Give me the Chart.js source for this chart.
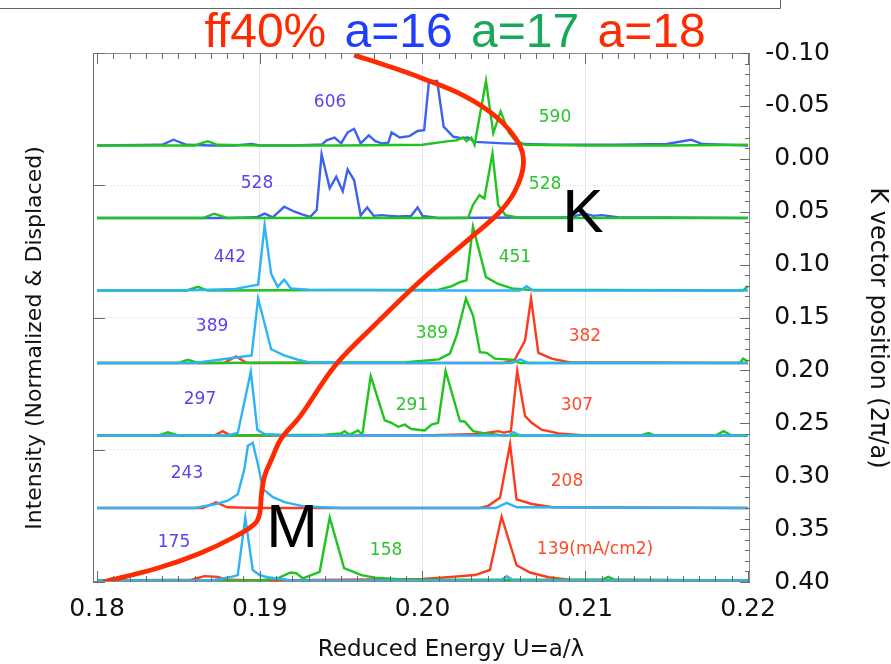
<!DOCTYPE html>
<html><head><meta charset="utf-8">
<script src="https://cdn.jsdelivr.net/npm/chart.js@4.4.0/dist/chart.umd.min.js"></script>
<style>html,body{margin:0;padding:0;background:#fff;}#wrap{width:891px;height:664px;}</style>
</head><body><div id="wrap"><canvas id="c" width="891" height="664"></canvas></div>
<script>
// ---------- axis ticks and titles ----------
const energyTicks = [0.18, 0.19, 0.20, 0.21, 0.22];
const energyTickLabels = ['0.18', '0.19', '0.20', '0.21', '0.22'];
const kTicks = [-0.10, -0.05, 0.00, 0.05, 0.10, 0.15, 0.20, 0.25, 0.30, 0.35, 0.40];
const kTickLabels = ['-0.10', '-0.05', '0.00', '0.05', '0.10', '0.15', '0.20', '0.25', '0.30', '0.35', '0.40'];
const xTitle = 'Reduced Energy U=a/λ';
const yLeftTitle = 'Intensity (Normalized & Displaced)';
const yRightTitle = 'K vector position (2π/a)';

// ---------- ff40% dispersion curve (energy, K position) ----------
const ff40_energy = [0.1804, 0.1837, 0.1863, 0.1885, 0.1897, 0.1900, 0.1901, 0.1903, 0.1907, 0.1913, 0.1925, 0.1946, 0.1970, 0.1999, 0.2030, 0.2047, 0.2057, 0.2062, 0.2059, 0.2045, 0.2025, 0.2000, 0.1980, 0.1958];
const ff40_k      = [0.400, 0.387, 0.373, 0.357, 0.345, 0.335, 0.318, 0.300, 0.285, 0.265, 0.243, 0.196, 0.158, 0.115, 0.074, 0.051, 0.030, 0.005, -0.015, -0.040, -0.060, -0.076, -0.087, -0.098];

// ---------- spectra: [energy, normalized intensity] ----------
const s606_a16 = [[0.1800,0],[0.1840,0.01],[0.1847,0.08],[0.1855,0.01],[0.1870,0],[0.1885,0],[0.1895,0.02],[0.1900,0],[0.1920,0],[0.1935,0.01],[0.1938,0.01],[0.1941,0.07],[0.1946,0.11],[0.1950,0.03],[0.1954,0.18],[0.1958,0.23],[0.1962,0.03],[0.1967,0.14],[0.1971,0.06],[0.1975,0.03],[0.1979,0.04],[0.1981,0.18],[0.1986,0.11],[0.1992,0.13],[0.1997,0.20],[0.2001,0.21],[0.2004,0.89],[0.2009,0.89],[0.2013,0.26],[0.2019,0.12],[0.2024,0.10],[0.2028,0.11],[0.2032,0.05],[0.2050,0.03],[0.2080,0.01],[0.2120,0.01],[0.2150,0.02],[0.2165,0.08],[0.2172,0.02],[0.2200,0]];
const s590_a17 = [[0.1800,0],[0.1860,0],[0.1868,0.06],[0.1874,0.01],[0.1900,0],[0.1950,0],[0.2000,0.01],[0.2016,0.06],[0.2021,0.07],[0.2025,0.11],[0.2027,0.06],[0.2030,0.11],[0.2032,0.01],[0.2039,0.89],[0.20435,0.17],[0.2048,0.47],[0.2053,0.18],[0.2057,0.07],[0.2063,0.01],[0.2100,0],[0.2150,0],[0.2200,0.01]];
const s528_a16 = [[0.1800,0],[0.1880,0],[0.1898,0.01],[0.1903,0.06],[0.1908,0.01],[0.1915,0.155],[0.1921,0.09],[0.1926,0.05],[0.1931,0.015],[0.1935,0.11],[0.1938,0.88],[0.1943,0.41],[0.1947,0.57],[0.1951,0.37],[0.1954,0.67],[0.1958,0.52],[0.1962,0.035],[0.1966,0.145],[0.1970,0.03],[0.1975,0.04],[0.1980,0.03],[0.1985,0.02],[0.1993,0.03],[0.1997,0.145],[0.2000,0.03],[0.2010,0],[0.2090,0.01],[0.2100,0.06],[0.2105,0.03],[0.2110,0.04],[0.2120,0.01],[0.2200,0]];
const s528_a17 = [[0.1800,0],[0.1865,0],[0.1872,0.06],[0.1880,0],[0.1950,0],[0.2028,0],[0.2031,0.18],[0.2035,0.315],[0.2038,0.27],[0.2043,0.89],[0.20465,0.18],[0.2051,0.04],[0.2060,0],[0.2200,0]];
const s442_a16 = [[0.1800,0],[0.1850,0],[0.1870,0.01],[0.1885,0.02],[0.1894,0.06],[0.1899,0.08],[0.1903,0.90],[0.1907,0.23],[0.1911,0.05],[0.1915,0.15],[0.1919,0.03],[0.1930,0.01],[0.2000,0],[0.2060,0],[0.2064,0.06],[0.2068,0],[0.2200,0]];
const s451_a17 = [[0.1800,0],[0.1855,0],[0.1862,0.05],[0.1868,0],[0.2010,0.01],[0.2018,0.06],[0.2023,0.115],[0.2027,0.14],[0.2031,0.88],[0.2039,0.185],[0.20465,0.09],[0.2055,0.03],[0.2065,0.01],[0.2197,0],[0.2200,0.06]];
const s389_a16 = [[0.1800,0],[0.1860,0],[0.18865,0.08],[0.1895,0.105],[0.1899,0.89],[0.1907,0.19],[0.1915,0.105],[0.19235,0.045],[0.1930,0.01],[0.1950,0],[0.2055,0],[0.2060,0.05],[0.2065,0],[0.2200,0]];
const s389_a17 = [[0.1800,0],[0.1850,0],[0.18558,0.045],[0.1862,0],[0.1990,0.01],[0.2010,0.05],[0.20168,0.13],[0.2021,0.38],[0.20267,0.89],[0.20311,0.65],[0.20353,0.15],[0.20394,0.14],[0.20445,0.06],[0.20548,0.045],[0.2060,0],[0.2195,0],[0.2197,0.06],[0.2200,0.02]];
const s382_a18 = [[0.1800,0],[0.1878,0],[0.18855,0.09],[0.1892,0],[0.2050,0],[0.20568,0.05],[0.2063,0.31],[0.20667,0.89],[0.20712,0.14],[0.20794,0.06],[0.2090,0.01],[0.2200,0]];
const s297_a16 = [[0.1800,0],[0.1880,0],[0.18865,0.035],[0.18945,0.88],[0.18985,0.08],[0.1903,0.02],[0.1920,0],[0.2053,0],[0.20558,0.045],[0.2060,0],[0.2200,0]];
const s291_a17 = [[0.1800,0],[0.1838,0],[0.18435,0.045],[0.1850,0],[0.1890,0],[0.1940,0.01],[0.1950,0.03],[0.19522,0.06],[0.1955,0.01],[0.19604,0.07],[0.1963,0.01],[0.19682,0.82],[0.19768,0.21],[0.19809,0.175],[0.1985,0.12],[0.19891,0.15],[0.19932,0.09],[0.20014,0.07],[0.20055,0.15],[0.20096,0.175],[0.20142,0.89],[0.2023,0.2],[0.2026,0.19],[0.20311,0.06],[0.20383,0.03],[0.2050,0],[0.2134,0],[0.21389,0.035],[0.2143,0],[0.2180,0],[0.2185,0.06],[0.2190,0],[0.2200,0]];
const s307_a18 = [[0.1800,0],[0.1872,0],[0.18773,0.06],[0.1882,0],[0.2000,0],[0.2035,0.02],[0.20465,0.06],[0.2050,0.04],[0.20543,0.06],[0.20582,0.89],[0.2063,0.27],[0.20671,0.175],[0.20732,0.08],[0.20835,0.03],[0.2100,0],[0.2200,0]];
const s243_a16 = [[0.1800,0],[0.1860,0],[0.18732,0.055],[0.18804,0.1],[0.18865,0.19],[0.18906,0.54],[0.18927,0.86],[0.18957,0.9],[0.18988,0.61],[0.1902,0.26],[0.19081,0.15],[0.19153,0.08],[0.19276,0.02],[0.1950,0],[0.2045,0],[0.20517,0.07],[0.2058,0.01],[0.2200,0]];
const s208_a18 = [[0.1800,0],[0.1865,0],[0.18732,0.08],[0.1880,0.01],[0.1900,0],[0.2035,0],[0.20404,0.03],[0.20476,0.14],[0.20538,0.88],[0.20578,0.12],[0.20671,0.055],[0.2080,0.01],[0.2200,0]];
const s175_a16 = [[0.1800,0],[0.1870,0],[0.18825,0.05],[0.18865,0.075],[0.18911,0.87],[0.18957,0.145],[0.18999,0.075],[0.1905,0.045],[0.1920,0],[0.2048,0],[0.20517,0.06],[0.2056,0],[0.2200,0]];
const s158_a17 = [[0.1800,0],[0.1900,0],[0.1912,0.04],[0.19189,0.11],[0.19225,0.1],[0.19265,0.03],[0.19368,0.12],[0.1943,0.87],[0.19518,0.17],[0.19625,0.075],[0.19707,0.04],[0.1990,0.01],[0.2110,0.01],[0.21142,0.05],[0.2118,0.01],[0.2200,0]];
const s139_a18 = [[0.1800,0],[0.1858,0.01],[0.1866,0.06],[0.18743,0.05],[0.1880,0.01],[0.1900,0],[0.2000,0.02],[0.20178,0.05],[0.20322,0.075],[0.20414,0.145],[0.20486,0.88],[0.20578,0.21],[0.20661,0.11],[0.20774,0.045],[0.2090,0.01],[0.2200,0]];

// spectrum list: displacement row, lattice constant, current label, values
const spectra = [
  {row: 6, a: 16, current: '606', values: s606_a16},
  {row: 6, a: 17, current: '590', values: s590_a17},
  {row: 5, a: 16, current: '528', values: s528_a16},
  {row: 5, a: 17, current: '528', values: s528_a17},
  {row: 4, a: 16, current: '442', values: s442_a16},
  {row: 4, a: 17, current: '451', values: s451_a17},
  {row: 3, a: 16, current: '389', values: s389_a16},
  {row: 3, a: 17, current: '389', values: s389_a17},
  {row: 3, a: 18, current: '382', values: s382_a18},
  {row: 2, a: 16, current: '297', values: s297_a16},
  {row: 2, a: 17, current: '291', values: s291_a17},
  {row: 2, a: 18, current: '307', values: s307_a18},
  {row: 1, a: 16, current: '243', values: s243_a16},
  {row: 1, a: 18, current: '208', values: s208_a18},
  {row: 0, a: 16, current: '175', values: s175_a16},
  {row: 0, a: 17, current: '158', values: s158_a17},
  {row: 0, a: 18, current: '139(mA/cm2)', values: s139_a18}
];

// ---------- label placement (energy, displaced intensity) ----------
const labelPlace = [
  [0.19432, 6.59], [0.20814, 6.39], [0.18983, 5.47], [0.20753, 5.46],
  [0.18817, 4.45], [0.20568, 4.45], [0.18707, 3.50], [0.20058, 3.41], [0.20998, 3.37],
  [0.18633, 2.49], [0.19935, 2.41], [0.20949, 2.41], [0.18553, 1.48], [0.20888, 1.37],
  [0.18473, 0.52], [0.19776, 0.41], [0.2106, 0.42]
];
const pointMarks = [['K', 0.20986, 5.04], ['M', 0.19198, 0.70]];
const titleParts = ['ff40%', 'a=16', 'a=17', 'a=18'];

// ---------- styles ----------
const titleColors = ['#ff2a00', '#1f3dff', '#17a957', '#ff2a00'];
const lineColor = (s) => s.a === 16 ? (s.row >= 5 ? '#3d62ee' : '#2db3f6') : (s.a === 17 ? '#1fc41f' : '#ff3a1c');
const labelColor = {16: '#5a42ef', 17: '#2cc52c', 18: '#ff4a2c'};
const FONT = 'DejaVu Sans';

// axis geometry helpers
const X_MIN = 0.18 - 4 / 16275, X_MAX = 0.22 + 2 / 16275;
const I_MIN = -1.5 / 72.5, I_MAX = 527.5 / 72.5;

const datasets = [];
datasets.push({
  label: 'ff40%', data: ff40_energy.map((e, i) => ({x: e, y: ff40_k[i]})), yAxisID: 'yK',
  borderColor: '#ff2a00', borderWidth: 4.8, pointRadius: 0, tension: 0.35, fill: false
});
// draw order: first dataset on top
const order = [...spectra].sort((p, q) => {
  const rank = s => s.row >= 5 ? {17: 0, 16: 1, 18: 2}[s.a] : {16: 0, 17: 1, 18: 2}[s.a];
  return rank(p) - rank(q);
});
order.forEach(s => {
  datasets.push({
    label: s.current, data: s.values.map(v => ({x: v[0], y: v[1] + s.row})), yAxisID: 'yI',
    borderColor: lineColor(s), borderWidth: 2.4, pointRadius: 0, tension: 0, fill: false
  });
});

const decor = {
  id: 'decor',
  afterDatasetsDraw(chart) {
    const {ctx, chartArea: a, scales} = chart;
    const xs = scales.x, yk = scales.yK, yi = scales.yI;
    ctx.save();
    // frame
    ctx.strokeStyle = '#8c8c8c'; ctx.lineWidth = 1;
    ctx.strokeRect(a.left + 0.5, a.top + 0.5, a.right - a.left - 1, a.bottom - a.top - 1);
    ctx.strokeStyle = '#6a6a6a';
    ctx.beginPath();
    ctx.moveTo(a.left + 0.5, a.top); ctx.lineTo(a.left + 0.5, a.bottom);
    for (let i = 0; i <= 40; i++) {
      const px = Math.round(xs.getPixelForValue(0.18 + i * 0.001)) + 0.5;
      const L = i % 10 === 0 ? 11 : 6;
      ctx.moveTo(px, a.top); ctx.lineTo(px, a.top + L);
      ctx.moveTo(px, a.bottom); ctx.lineTo(px, a.bottom - L);
    }
    for (let i = 0; i <= 50; i++) {
      const py = Math.round(yk.getPixelForValue(-0.10 + i * 0.01)) + 0.5;
      const L = i % 5 === 0 ? 10 : 5;
      ctx.moveTo(a.right, py); ctx.lineTo(a.right - L, py);
    }
    yi.ticks.forEach(t => {
      const py = Math.round(yi.getPixelForValue(t.value)) + 0.5;
      ctx.moveTo(a.left, py); ctx.lineTo(a.left + 12, py);
    });
    ctx.stroke();
    // current labels
    ctx.font = '17px "' + FONT + '"';
    ctx.textAlign = 'center'; ctx.textBaseline = 'middle';
    spectra.forEach((s, i) => {
      ctx.fillStyle = labelColor[s.a];
      ctx.fillText(s.current, xs.getPixelForValue(labelPlace[i][0]), yi.getPixelForValue(labelPlace[i][1]));
    });
    // K and M marks
    ctx.font = '62px "Liberation Sans"'; ctx.fillStyle = '#000';
    pointMarks.forEach(m => ctx.fillText(m[0], xs.getPixelForValue(m[1]), yi.getPixelForValue(m[2])));
    ctx.restore();
  },
  afterDraw(chart) {
    const {ctx} = chart;
    ctx.save();
    // remnant frame of a box above
    ctx.strokeStyle = '#666'; ctx.lineWidth = 1;
    ctx.beginPath(); ctx.moveTo(0, 8.5); ctx.lineTo(780.5, 8.5); ctx.lineTo(780.5, 0); ctx.stroke();
    // axis titles
    ctx.fillStyle = '#111'; ctx.textAlign = 'center'; ctx.textBaseline = 'middle';
    ctx.font = '23px "' + FONT + '"';
    ctx.fillText(xTitle, 451, 650);
    ctx.save(); ctx.translate(35, 338); ctx.rotate(-Math.PI / 2);
    ctx.font = '22px "' + FONT + '"'; ctx.fillText(yLeftTitle, 0, 0); ctx.restore();
    ctx.save(); ctx.translate(877, 328); ctx.rotate(Math.PI / 2);
    ctx.font = '24px "' + FONT + '"'; ctx.fillText(yRightTitle, 0, 0); ctx.restore();
    // multi-colored title
    ctx.font = '48px "Liberation Sans"'; ctx.textBaseline = 'alphabetic'; ctx.textAlign = 'left';
    const sp = ctx.measureText(' ').width + 5;
    const total = titleParts.reduce((w, p) => w + ctx.measureText(p).width, 0) + sp * (titleParts.length - 1);
    let x = 455 - total / 2;
    titleParts.forEach((p, i) => { ctx.fillStyle = titleColors[i]; ctx.fillText(p, x, 47); x += ctx.measureText(p).width + sp; });
    ctx.restore();
  }
};

new Chart(document.getElementById('c'), {
  type: 'line',
  data: {datasets},
  plugins: [decor],
  options: {
    responsive: false, animation: false, devicePixelRatio: 1,
    layout: {padding: {top: 53, left: 0, right: 61, bottom: 0}},
    plugins: {legend: {display: false}, tooltip: {enabled: false}, title: {display: false}},
    scales: {
      x: {
        type: 'linear', position: 'bottom', min: X_MIN, max: X_MAX,
        afterBuildTicks: s => { s.ticks = energyTicks.map(v => ({value: v})); },
        afterFit: s => { s.height = 82; },
        ticks: {callback: (v) => energyTickLabels[energyTicks.findIndex(t => Math.abs(t - v) < 1e-9)], font: {family: FONT, size: 25}, color: '#111', padding: 12, maxRotation: 0, autoSkip: false},
        grid: {color: c => (c.index === 0 || c.index === energyTicks.length - 1) ? 'rgba(0,0,0,0)' : '#e4e4f4', drawTicks: false},
        border: {display: false},
        title: {display: false, text: xTitle}
      },
      yI: {
        type: 'linear', position: 'left', min: I_MIN, max: I_MAX,
        afterBuildTicks: s => { s.ticks = [0, 1, 2, 3, 4].map(i => ({value: I_MIN + i * (I_MAX - I_MIN) / 4})); },
        afterFit: s => { s.width = 93; },
        ticks: {display: false},
        grid: {color: c => (c.index === 0 || c.index === 4) ? 'rgba(0,0,0,0)' : '#e6e6f4', drawTicks: false},
        border: {display: false, dash: [2, 2]},
        title: {display: false, text: yLeftTitle}
      },
      yK: {
        type: 'linear', position: 'right', min: -0.10, max: 0.40, reverse: true,
        afterBuildTicks: s => { s.ticks = kTicks.map(v => ({value: v})); },
        afterFit: s => { s.width = 80; },
        ticks: {callback: (v) => kTickLabels[kTicks.findIndex(t => Math.abs(t - v) < 1e-9)], font: {family: FONT, size: 25}, color: '#111', padding: 10, crossAlign: 'far', autoSkip: false},
        grid: {display: false},
        border: {display: false},
        title: {display: false, text: yRightTitle}
      }
    }
  }
});
</script></body></html>
